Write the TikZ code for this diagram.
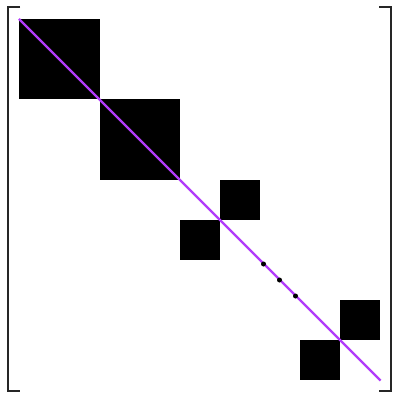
\documentclass[tikz,border=0pt]{standalone}
\begin{document}
\definecolor{diagpurple}{RGB}{178,60,250}
\begin{tikzpicture}[x=1pt,y=-1pt,
  blk/.style={fill=black,draw=none},
  brk/.style={draw=black!85,line width=2pt},
  diag/.style={draw=diagpurple,line width=2.4pt},
  dotnode/.style={circle,fill=black,inner sep=0pt,minimum size=5pt}]
\useasboundingbox (0,0) rectangle (392,393);
\fill[white] (0,0) rectangle (392,393);
% blocks
\path[blk] (19,19) rectangle (99.5,99.5);
\path[blk] (99.5,99.5) rectangle (179.5,179.5);
\path[blk] (219.5,179.5) rectangle (259.5,219.5);
\path[blk] (179.5,219.5) rectangle (219.5,259.5);
\path[blk] (339.5,299.5) rectangle (379.5,339.5);
\path[blk] (299.5,339.5) rectangle (339.5,379.5);
% brackets
\draw[brk] (20,7.5) -- (7.5,7.5) -- (7.5,391) -- (20,391);
\draw[brk] (379,7.5) -- (390.5,7.5) -- (390.5,391) -- (379,391);
% diagonal
\coordinate (s) at (19,19);
\coordinate (e) at (380.5,380.5);
\draw[diag] (s) -- (e);
% dots
\node[dotnode] (d1) at (263.5,264) {};
\node[dotnode] (d2) at (279.5,280) {};
\node[dotnode] (d3) at (295.5,296) {};
\end{tikzpicture}
\end{document}
